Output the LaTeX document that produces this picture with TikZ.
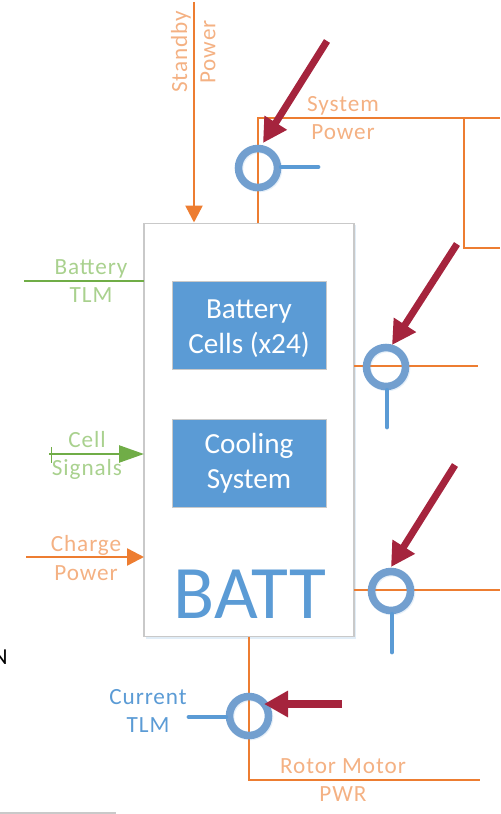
\documentclass[tikz,border=0pt]{standalone}
\usepackage{fontspec}
\setmainfont{Carlito}
\newfontfamily\labelfont[LetterSpace=4]{Carlito}
\usetikzlibrary{arrows.meta,positioning,shadows}
\definecolor{pwr}{HTML}{ED7D31}
\definecolor{pwrtext}{HTML}{F4B183}
\definecolor{tlm}{HTML}{70AD47}
\definecolor{tlmtext}{HTML}{A9D18E}
\definecolor{cellblue}{HTML}{5B9BD5}
\definecolor{ringblue}{HTML}{729FCF}
\definecolor{sensor}{HTML}{A5243D}
\definecolor{boxgray}{HTML}{C9C9C9}
\tikzset{
  battbox/.style={draw=boxgray,fill=white,line width=0.6pt,minimum width=4.2cm,minimum height=8.28cm,
    drop shadow={shadow xshift=1pt,shadow yshift=-1pt,fill=cellblue,opacity=0.18}},
  cellbox/.style={draw=boxgray,fill=cellblue,text=white,align=center,font=\fontsize{16.6}{20}\selectfont,
    minimum width=3.08cm,minimum height=1.76cm,line width=0.4pt},
  ring/.style={circle,draw=ringblue,line width=4.3pt,minimum size=0.78cm,inner sep=0pt,
    drop shadow={shadow xshift=0.6pt,shadow yshift=-0.6pt,fill=none,draw=cellblue,opacity=0.15}},
  pwrline/.style={draw=pwr,line width=1.4pt},
  pwrarr/.style={pwrline,-{Triangle[length=3.4mm,width=3.4mm]}},
  tlmline/.style={draw=tlm,line width=1.4pt},
  tlmarr/.style={tlmline,-{Triangle[length=5mm,width=3.4mm]}},
  stub/.style={draw=cellblue,line width=2.8pt,line cap=round},
  probe/.style={draw=sensor,line width=4pt,-{Triangle[length=4.8mm,width=5mm]}},
  pwrlabel/.style={text=pwrtext,font=\labelfont\fontsize{13.2}{16}\selectfont,align=center},
  tlmlabel/.style={text=tlmtext,font=\labelfont\fontsize{13.2}{16}\selectfont,align=center},
  curlabel/.style={text=cellblue,font=\labelfont\fontsize{13.2}{16}\selectfont,align=center},
}
\begin{document}
\begin{tikzpicture}[x=0.02cm,y=-0.02cm]
  \useasboundingbox (0,0) rectangle (500,814);
  % box with the two blocks
  \node[battbox] (batt) at (249,430) {};
  \node[cellbox] (cells) at (249,325) {\rule{0pt}{15pt}Battery\\Cells (x24)};
  \node[cellbox] (cooling) at (249,463) {Cooling\\System};
  \node[text=cellblue,font=\fontsize{43}{43}\selectfont] (battname) at (250,594) {BATT};
  % free ends
  \coordinate (standbyin) at (194,2);
  \coordinate (sysout) at (258,223);
  \coordinate (syscorner) at (258,118);
  \coordinate (sysend) at (500,118);
  \coordinate (sysbranch) at (464,118);
  \coordinate (sysdrop) at (464,248);
  \coordinate (sysdropend) at (500,248);
  \coordinate (tlmin) at (24,281);
  \coordinate (tlmbox) at (144,281);
  \coordinate (cellin) at (49,454);
  \coordinate (celltop) at (51,447);
  \coordinate (cellbot) at (51,463);
  \coordinate (cellbox) at (144,454);
  \coordinate (chargein) at (26,557);
  \coordinate (chargebox) at (144,557);
  \coordinate (midout) at (354,366);
  \coordinate (midend) at (478,366);
  \coordinate (lowout) at (354,590);
  \coordinate (lowend) at (500,590);
  \coordinate (rotorout) at (249,637);
  \coordinate (rotorcorner) at (249,780);
  \coordinate (rotorend) at (480,780);
  % power and signal lines
  \draw[pwrarr] (standbyin) -- (standbyin |- batt.north);
  \draw[pwrline] (sysout) -- (syscorner) -- (sysend);
  \draw[pwrline] (sysbranch) -- (sysdrop) -- (sysdropend);
  \draw[tlmline] (tlmin) -- (tlmbox);
  \draw[tlmarr] (cellin) -- (cellbox);
  \draw[tlmline,line width=0.5pt] (celltop) -- (cellbot);
  \draw[pwrarr] (chargein) -- (chargebox);
  \draw[pwrline] (midout) -- (midend);
  \draw[pwrline] (lowout) -- (lowend);
  \draw[pwrline] (rotorout) -- (rotorcorner) -- (rotorend);
  % current sensors
  \node[ring] (ringsys) at (258,168) {};
  \node[ring] (ringmid) at (386,367) {};
  \node[ring] (ringlow) at (391,591) {};
  \node[ring] (ringrotor) at (249,716) {};
  \coordinate (sysstub) at (318,167);
  \coordinate (midstub) at (387,427);
  \coordinate (lowstub) at (392,652);
  \coordinate (rotorstub) at (189,717);
  \draw[stub] (ringsys.east |- sysstub) -- (sysstub);
  \draw[stub] (ringmid.south -| midstub) -- (midstub);
  \draw[stub] (ringlow.south -| lowstub) -- (lowstub);
  \draw[stub] (ringrotor.west |- rotorstub) -- (rotorstub);
  \coordinate (probesys) at (327,41);
  \coordinate (probemid) at (457,244);
  \coordinate (probelow) at (455,465);
  \coordinate (proberotor) at (342,704);
  \draw[probe] (probesys) -- (263,143);
  \draw[probe] (probemid) -- (392,345);
  \draw[probe] (probelow) -- (391,567);
  \draw[probe] (proberotor) -- (264,704);
  % labels
  \node[pwrlabel,rotate=90] (lblstandby) at (181,52) {Standby};
  \node[pwrlabel,rotate=90] (lblpower) at (208,52) {Power};
  \node[tlmlabel] (lblbatt) at (91,281) {Battery\\TLM};
  \node[tlmlabel] (lblcell) at (87,455) {Cell\\Signals};
  \node[pwrlabel] (lblcharge) at (86,558) {Charge\\Power};
  \node[pwrlabel] (lblsys) at (343,118) {System\\Power};
  \node[curlabel] (lblcur) at (148,711) {Current\\TLM};
  \node[pwrlabel] (lblrotor) at (343,780) {Rotor Motor\\PWR};
  \node[text=black,inner sep=0pt,font=\fontsize{13}{16}\selectfont,anchor=east] (lbln) at (8,657) {N};
  \draw[draw=boxgray,line width=0.6pt] (0,813) -- (116,813);
\end{tikzpicture}
\end{document}
